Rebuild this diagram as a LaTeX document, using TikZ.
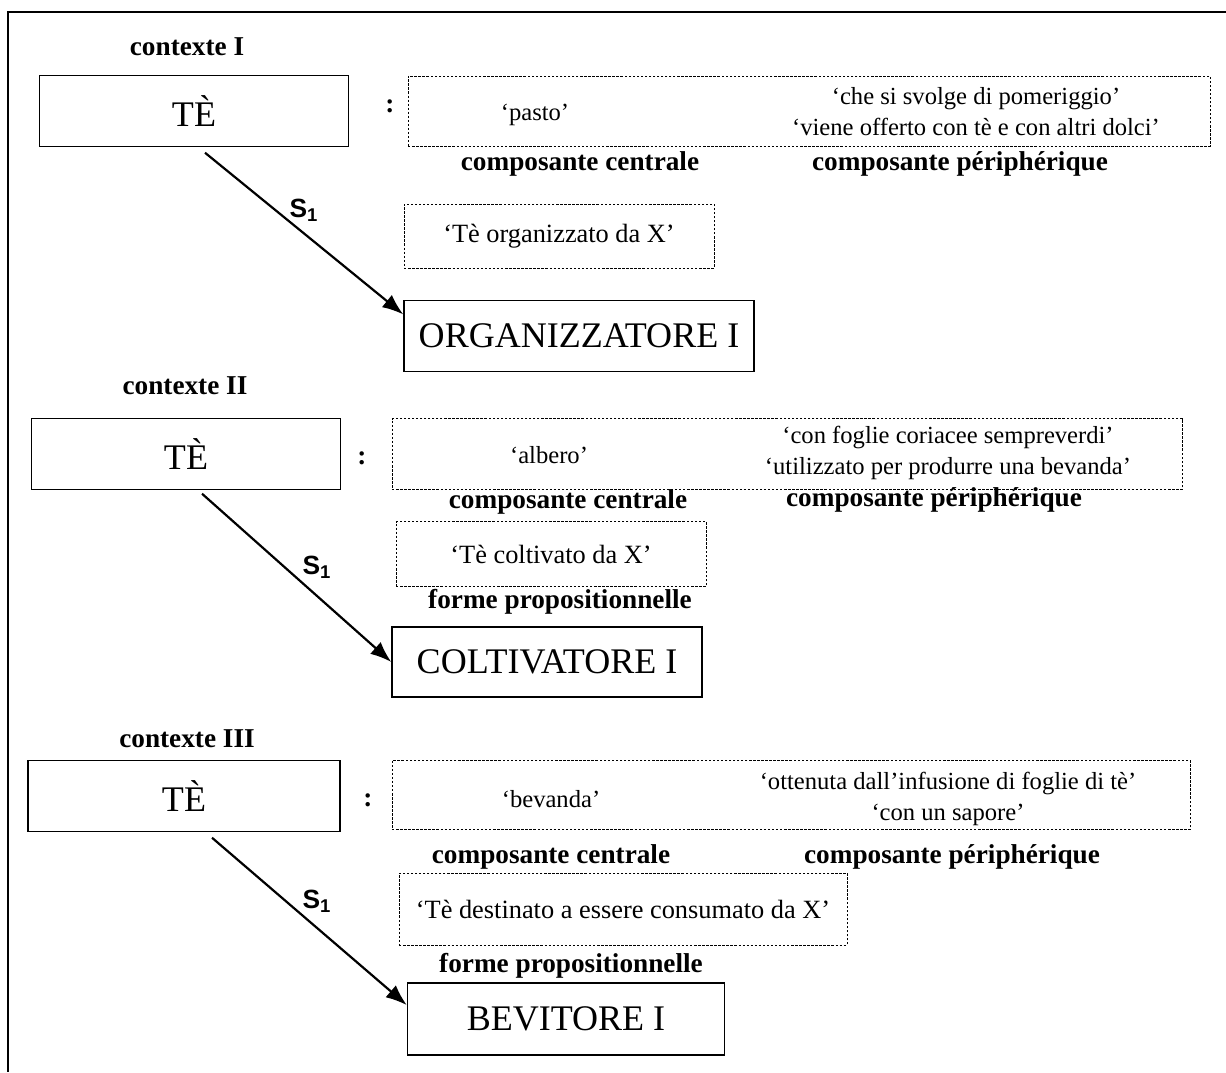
\documentclass[tikz,border=0pt]{standalone}
\usepackage{fontspec}
\setmainfont{Liberation Serif}
\newfontfamily\sfb{Liberation Sans}
\usepackage{tikz}
\usetikzlibrary{arrows.meta, positioning}

\begin{document}
\begin{tikzpicture}[x=0.2mm, y=-0.2mm,
        motbox/.style={draw, line width=0.8pt, inner sep=0pt, minimum height=14.2mm, font=\fontsize{20.5}{24}\selectfont},
        defbox/.style={draw, line width=0.55pt, dash pattern=on 1.4pt off 0.9pt, inner sep=0pt, font=\fontsize{15}{18}\selectfont},
        sens/.style={font=\fontsize{14}{17.6}\selectfont, align=center},
        lbl/.style={font=\fontsize{15.5}{18}\selectfont\bfseries},
        slabel/.style={font=\fontsize{15}{17}\selectfont\sfb\bfseries},
        deriv/.style={line width=1.25pt, -{Latex[length=12pt, width=9pt]}}]
    \useasboundingbox (0,0) rectangle (1226,1072);
    \draw[line width=1pt] (1226,12) -- (8,12) -- (8,1072);

    % contexte I
    \node[lbl] (ctx1) at (187,47) {contexte I};
    \node[motbox, minimum width=61.8mm] (te1) at (194,111) {TÈ};
    \node[lbl] (col1) at (390,106) {:};
    \node[defbox, minimum width=160.4mm, minimum height=14mm] (def1) at (809,111) {};
    \node[sens] (cen1) at (535,115) {‘pasto’};
    \node[sens] (per1) at (976,112) {‘che si svolge di pomeriggio’\\‘viene offerto con tè e con altri dolci’};
    \node[lbl] (lcen1) at (580,164) {composante centrale};
    \node[lbl] (lper1) at (960,164) {composante périphérique};
    \node[defbox, minimum width=62mm, minimum height=12.8mm] (prop1) at (559,236) {‘Tè organizzato da X’};
    \node[motbox, minimum width=70mm] (der1) at (579,336) {ORGANIZZATORE I};
    \node[slabel] (s1a) at (304,210) {S\textsubscript{1}};
    \draw[deriv] ([xshift=2.2mm, yshift=-1.1mm]te1.south) -- (der1.173);

    % contexte II
    \node[lbl] (ctx2) at (185,386) {contexte II};
    \node[motbox, minimum width=61.8mm] (te2) at (186,454) {TÈ};
    \node[lbl] (col2) at (362,458) {:};
    \node[defbox, minimum width=158mm, minimum height=14.2mm] (def2) at (787,454) {};
    \node[sens] (cen2) at (549,455) {‘albero’};
    \node[sens] (per2) at (948,453) {‘con foglie coriacee sempreverdi’\\‘utilizzato per produrre una bevanda’};
    \node[lbl] (lcen2) at (568,502) {composante centrale};
    \node[lbl] (lper2) at (934,500) {composante périphérique};
    \node[defbox, minimum width=62mm, minimum height=13mm] (prop2) at (551,554) {‘Tè coltivato da X’};
    \node[lbl] (lprop2) at (560,602) {forme propositionnelle};
    \node[motbox, minimum width=62mm, minimum height=14mm] (der2) at (547,662) {COLTIVATORE I};
    \node[slabel] (s1b) at (317,567) {S\textsubscript{1}};
    \draw[deriv] ([xshift=3.2mm, yshift=-0.7mm]te2.south) -- (der2.west);

    % contexte III
    \node[lbl] (ctx3) at (187,739) {contexte III};
    \node[motbox, minimum width=62.4mm] (te3) at (184,796) {TÈ};
    \node[lbl] (col3) at (368,800) {:};
    \node[defbox, minimum width=159.6mm, minimum height=13.8mm] (def3) at (791,795) {};
    \node[sens] (cen3) at (551,799) {‘bevanda’};
    \node[sens] (per3) at (948,799) {‘ottenuta dall’infusione di foglie di tè’\\‘con un sapore’};
    \node[lbl] (lcen3) at (551,857) {composante centrale};
    \node[lbl] (lper3) at (952,857) {composante périphérique};
    \node[defbox, minimum width=89.6mm, minimum height=14.4mm] (prop3) at (623,909) {‘Tè destinato a essere consumato da X’};
    \node[lbl] (lprop3) at (571,966) {forme propositionnelle};
    \node[motbox, minimum width=63.4mm, minimum height=14.4mm] (der3) at (566,1019) {BEVITORE I};
    \node[slabel] (s1c) at (317,901) {S\textsubscript{1}};
    \draw[deriv] ([xshift=5.6mm, yshift=-1.1mm]te3.south) -- (der3.175);
\end{tikzpicture}
\end{document}
